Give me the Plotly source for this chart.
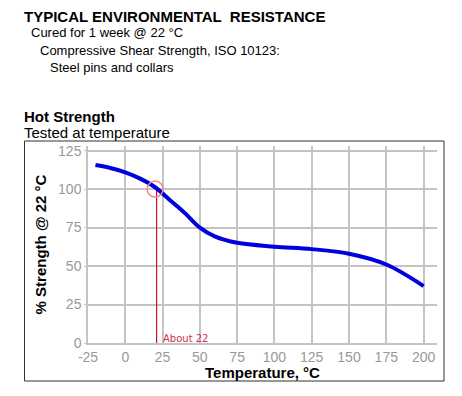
import plotly.graph_objects as go

temps = [-20, -10, 0, 10, 20, 30, 40, 50, 60, 75, 100, 125, 150, 175, 200]
strength = [115.6, 113.7, 110.9, 106.8, 101.2, 92.8, 84.4, 75, 69.3, 65.1, 62.6, 61, 58, 51, 37]

x_ticks = [-25, 0, 25, 50, 75, 100, 125, 150, 175, 200]
x_tick_labels = ["-25", "0", "25", "50", "75", "100", "125", "150", "175", "200"]
y_ticks = [0, 25, 50, 75, 100, 125]

marker_x = [20]
marker_y = [100]
about_x = [21, 21]
about_y = [0, 100]

W, H = 462, 396
L, R, T, B = 88, 25, 146, 53
PW = W - L - R
PH = H - T - B

def px(x):
    return (x - L) / PW

def py(y):
    return (H - B - y) / PH

fig = go.Figure()
fig.add_trace(go.Scatter(x=about_x, y=about_y, mode="lines",
                         line=dict(color="#cc1122", width=1.2), hoverinfo="skip"))
fig.add_trace(go.Scatter(x=temps, y=strength, mode="lines",
                         line=dict(color="#0000dd", width=4, shape="spline", smoothing=1.0)))
fig.add_trace(go.Scatter(x=marker_x, y=marker_y, mode="markers",
                         marker=dict(size=16, color="rgba(0,0,0,0)",
                                     line=dict(color="#f08888", width=1.5))))

fig.update_xaxes(range=[-25, 209], tickvals=x_ticks, ticktext=x_tick_labels, showgrid=True,
                 gridcolor="#c4c4c4", gridwidth=1.5, showline=True, linecolor="#c4c4c4",
                 linewidth=1.5, ticks="", zeroline=False,
                 tickfont=dict(family="Liberation Sans, Arial", size=14, color="#999999"))
fig.update_yaxes(range=[0, 128], tickvals=y_ticks, showgrid=True, gridcolor="#c4c4c4",
                 gridwidth=1.5, showline=True, linecolor="#c4c4c4", linewidth=1.5,
                 ticks="outside", ticklen=2, tickcolor="#c4c4c4", zeroline=False,
                 tickfont=dict(family="Liberation Sans, Arial", size=14, color="#999999"),
                 title=dict(text="<b>% Strength @ 22 °C</b>", standoff=8,
                            font=dict(family="Liberation Sans, Arial", size=15, color="#000")))

texts = [
    ("<b>TYPICAL ENVIRONMENTAL  RESISTANCE</b>", 23, 16, 15),
    ("Cured for 1 week @ 22 °C", 30, 33, 13),
    ("Compressive Shear Strength, ISO 10123:", 39, 50, 13),
    ("Steel pins and collars", 49, 67, 13),
    ("<b>Hot Strength</b>", 23, 116, 15),
    ("Tested at temperature", 23, 132, 15),
]
annotations = []
for t, x, y, s in texts:
    annotations.append(dict(text=t, xref="paper", yref="paper", x=px(x), y=py(y),
                            xanchor="left", yanchor="middle", showarrow=False, borderpad=0,
                            font=dict(family="Liberation Sans, Arial", size=s, color="#000")))
annotations.append(dict(text="<b>Temperature, °C</b>", xref="paper", yref="paper",
                        x=px(262), y=py(372), xanchor="center", yanchor="middle",
                        showarrow=False, borderpad=0,
                        font=dict(family="Liberation Sans, Arial", size=15, color="#000")))
annotations.append(dict(text="About 22", x=24, y=0, xref="x", yref="y",
                        xanchor="left", yanchor="bottom", showarrow=False, yshift=-3,
                        font=dict(family="DejaVu Sans", size=10, color="#d03050")))

fig.update_layout(
    width=W, height=H, margin=dict(l=L, r=R, t=T, b=B),
    paper_bgcolor="white", plot_bgcolor="white", showlegend=False,
    annotations=annotations,
    shapes=[dict(type="rect", xref="paper", yref="paper",
                 x0=px(24.5), x1=px(444), y0=py(381), y1=py(141),
                 line=dict(color="#333333", width=1))],
)

fig.write_html("out.html", config={"displayModeBar": False},
               post_script="document.body.style.margin='0';")
